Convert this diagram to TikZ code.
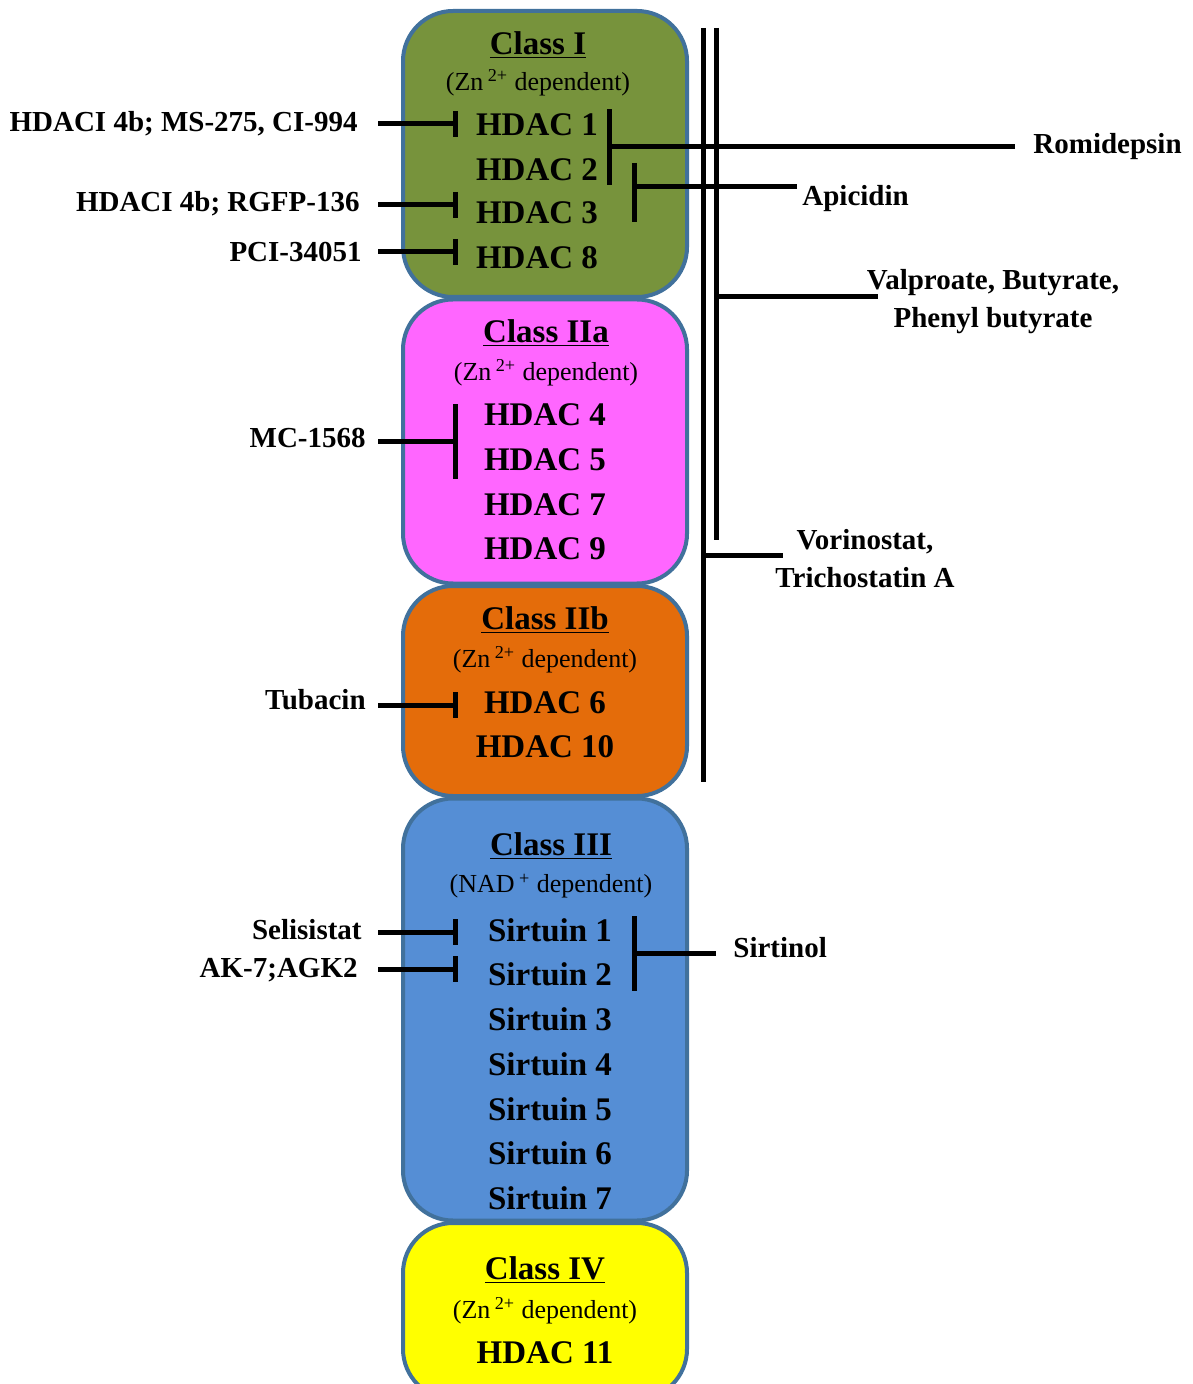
\documentclass[tikz,border=0pt]{standalone}
\usepackage{fontspec}
\setmainfont{Liberation Serif}
\usetikzlibrary{arrows.meta}
\definecolor{boxblue}{HTML}{41719C}
\definecolor{classIcol}{HTML}{77933C}
\definecolor{classIIacol}{HTML}{FF66FF}
\definecolor{classIIbcol}{HTML}{E46C0A}
\definecolor{classIIIcol}{HTML}{558ED5}
\definecolor{classIVcol}{HTML}{FFFF00}
\tikzset{
  box/.style={draw=boxblue, line width=2pt, rounded corners=25pt, minimum width=142pt},
  ttl/.style={font=\fontsize{16.5}{18}\selectfont\bfseries},
  dep/.style={font=\fontsize{13}{15}\selectfont},
  enz/.style={font=\fontsize{16.5}{18}\selectfont\bfseries},
  drug/.style={font=\fontsize{14.5}{19}\selectfont\bfseries, inner sep=0pt, align=center},
  bond/.style={line width=2.5pt},
  inh/.style={bond, -{Bar[width=13pt]}},
}
\newcommand\dep[1]{(#1\,\textsuperscript{2+} dependent)}

\begin{document}
\begin{tikzpicture}[x=0.5pt, y=-0.5pt]
	\useasboundingbox (0,0) rectangle (1192,1384);
	% class boxes
	\node[box, fill=classIcol, minimum height=143pt] (boxI) at (545,154) {};
	\node[box, fill=classIIacol, minimum height=142pt] (boxIIa) at (545,441.5) {};
	\node[box, fill=classIIbcol, minimum height=105pt] (boxIIb) at (545,691) {};
	\node[box, fill=classIIIcol, minimum height=211pt] (boxIII) at (545,1009.5) {};
	\node[box, fill=classIVcol, minimum height=88pt] (boxIV) at (545,1311) {};
	% class I
	\node[ttl] (ttlI) at (538,45) {\underline{Class I}};
	\node[dep] (depI) at (538,83) {\dep{Zn}};
	\node[enz] (hdac1) at (537,125) {HDAC 1};
	\node[enz] (hdac2) at (537,170) {HDAC 2};
	\node[enz] (hdac3) at (537,213) {HDAC 3};
	\node[enz] (hdac8) at (537,258) {HDAC 8};
	% class IIa
	\node[ttl] (ttlIIa) at (546,333) {\underline{Class IIa}};
	\node[dep] (depIIa) at (546,373) {\dep{Zn}};
	\foreach \n/\y in {4/415, 5/460, 7/505, 9/549}
		\node[enz] (hdac\n) at (545,\y) {HDAC \n};
	% class IIb
	\node[ttl] (ttlIIb) at (545,620) {\underline{Class IIb}};
	\node[dep] (depIIb) at (545,660) {\dep{Zn}};
	\node[enz] (hdac6) at (545,703) {HDAC 6};
	\node[enz] (hdac10) at (545,747) {HDAC 10};
	% class III
	\node[ttl] (ttlIII) at (551,846) {\underline{Class III}};
	\node[dep] (depIII) at (551,886) {(NAD\,\textsuperscript{+} dependent)};
	\foreach \n/\y in {1/930, 2/974, 3/1019, 4/1064, 5/1109, 6/1153, 7/1198}
		\node[enz] (sirt\n) at (550,\y) {Sirtuin \n};
	% class IV
	\node[ttl] (ttlIV) at (545,1270) {\underline{Class IV}};
	\node[dep] (depIV) at (545,1311) {\dep{Zn}};
	\node[enz] (hdac11) at (545,1353) {HDAC 11};

	% inhibitors, left side
	\node[drug, anchor=east] (ms) at (358,124) {HDACI 4b; MS-275, CI-994};
	\node[drug, anchor=east] (rgfp) at (360,204) {HDACI 4b; RGFP-136};
	\node[drug, anchor=east] (pci) at (362,252) {PCI-34051};
	\node[drug, anchor=east] (mc) at (366,438) {MC-1568};
	\node[drug, anchor=east] (tuba) at (366,700) {Tubacin};
	\node[drug, anchor=east] (seli) at (362,930) {Selisistat};
	\node[drug, anchor=east] (ak) at (358,970) {AK-7;AGK2};
	\coordinate (barms) at (458,124);
	\coordinate (barrgfp) at (458,205);
	\coordinate (barpci) at (458,252);
	\coordinate (barmc) at (458,442);
	\coordinate (bartuba) at (458,705);
	\coordinate (barseli) at (458,932);
	\coordinate (barak) at (458,969);
	\draw[inh] (barms -| ms.east) ++(10pt,0) -- (barms);
	\draw[inh] (barrgfp -| rgfp.east) ++(9pt,0) -- (barrgfp);
	\draw[inh] (barpci -| pci.east) ++(8pt,0) -- (barpci);
	\draw[bond, -{Bar[width=37.5pt]}] (barmc -| mc.east) ++(6pt,0) -- (barmc);
	\draw[inh] (bartuba -| tuba.east) ++(6pt,0) -- (bartuba);
	\draw[inh] (barseli -| seli.east) ++(8pt,0) -- (barseli);
	\draw[inh] (barak -| ak.east) ++(10pt,0) -- (barak);

	% inhibitors, right side
	\node[drug, anchor=west] (romi) at (1033,147) {Romidepsin};
	\node[drug, anchor=west] (apici) at (802,199) {Apicidin};
	\node[drug] (valpro) at (993,302) {Valproate, Butyrate,\\Phenyl butyrate};
	\node[drug] (vorino) at (865,559) {Vorinostat,\\Trichostatin A};
	\node[drug, anchor=west] (sirtinol) at (733,948) {Sirtinol};
	\coordinate (barromi) at (607,147);
	\coordinate (barapici) at (634,190);
	\coordinate (endapici) at (797,187);
	\coordinate (barsirtinol) at (632,953);
	\coordinate (endvalpro) at (878,297);
	\coordinate (endvorino) at (783,555);
	\draw[bond, -{Bar[width=38pt]}] (barromi -| romi.west) ++(-9pt,0) -- (barromi);
	\draw[bond] (endapici) -- (634,187);
	\draw[bond] (barapici) ++(0,-27) -- ++(0,59);
	\draw[bond, -{Bar[width=37.5pt]}] (barsirtinol -| sirtinol.west) ++(-8.5pt,0) -- (barsirtinol);
	% pan-HDAC lines
	\coordinate (pantopA) at (703,28);
	\coordinate (pantopB) at (716,28);
	\draw[bond] (pantopA) -- (703,782);
	\draw[bond] (pantopB) -- (716,540);
	\draw[bond] (716,297) -- (endvalpro);
	\draw[bond] (703,555) -- (endvorino);
\end{tikzpicture}
\end{document}
